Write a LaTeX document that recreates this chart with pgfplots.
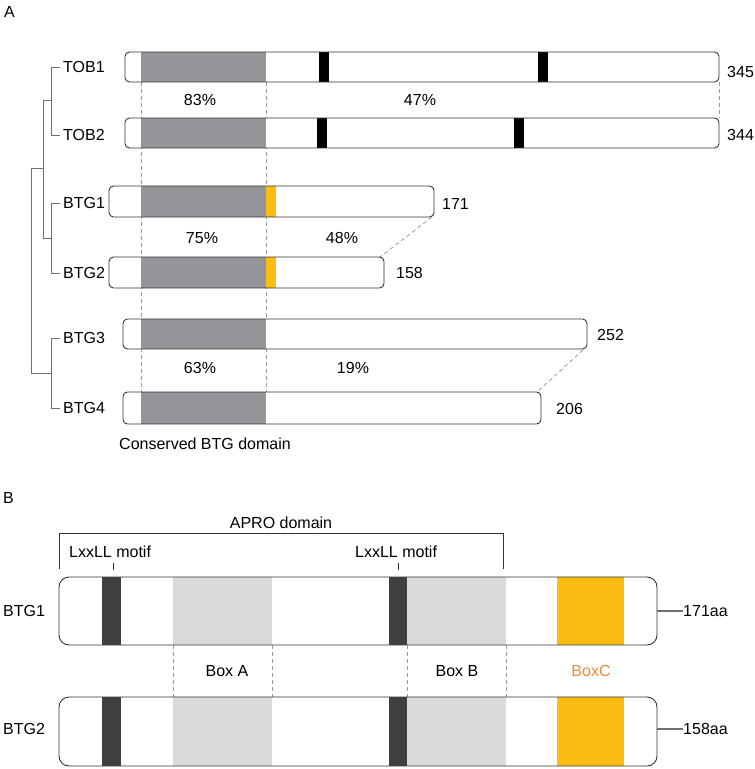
\documentclass[border=0pt]{standalone}
\usepackage{fontspec}
\setmainfont{Liberation Sans}
\usepackage{pgfplots}
\pgfplotsset{compat=1.18}
\definecolor{domgray}{HTML}{939598}
\definecolor{orng}{HTML}{FBBD13}
\definecolor{boxc}{HTML}{F0883C}
\definecolor{darkbar}{HTML}{404041}
\definecolor{lightbox}{HTML}{DADADA}
\definecolor{outl}{HTML}{333333}
\definecolor{tree}{HTML}{707070}
\definecolor{dash}{HTML}{9A9A9A}
\newcommand\rect[5]{\addplot[#5] coordinates {(#1,#3) (#2,#3) (#2,#4) (#1,#4)} -- cycle;}
\begin{document}
\begin{tikzpicture}
\fontsize{16bp}{19bp}\selectfont
\begin{axis}[scale only axis, width=755bp, height=769bp,
  xmin=0, xmax=755, ymin=0, ymax=769, y dir=reverse, hide axis, clip=false]
\addplot[draw=none] coordinates {(0,0) (755,769)};
\tikzset{lw/.style={anchor=west, inner sep=0pt}}
% ---------- Panel A ----------
\tikzset{dsh/.style={draw=dash, line width=0.8bp, dash pattern=on 4bp off 3bp}}
\addplot[dsh] coordinates {(141,82) (141,392)};
\addplot[dsh] coordinates {(266,82) (266,392)};
\addplot[dsh] coordinates {(719,82) (719,118)};
\addplot[dsh] coordinates {(432,217) (380,257)};
\addplot[dsh] coordinates {(583,350) (537,392)};
% dendrogram
\tikzset{tr/.style={draw=tree, line width=0.9bp}}
\addplot[tr] coordinates {(60,67) (51,67) (51,135) (60,135)};
\addplot[tr] coordinates {(60,203) (51,203) (51,273) (60,273)};
\addplot[tr] coordinates {(51,100) (43,100) (43,238) (51,238)};
\addplot[tr] coordinates {(60,338) (51,338) (51,408) (60,408)};
\addplot[tr] coordinates {(43,168) (31,168) (31,373) (51,373)};
% boxes
\tikzset{wf/.style={fill=white, draw=none, rounded corners=4.5bp},
         ol/.style={draw=outl, line width=0.9bp, rounded corners=4.5bp}}
% TOB1
\rect{125}{719}{52}{82}{wf}
\rect{141}{266}{52}{82}{fill=domgray, draw=none}
\rect{319}{329}{52}{82}{fill=black, draw=none}
\rect{538}{548}{52}{82}{fill=black, draw=none}
\rect{125}{719}{52}{82}{ol}
% TOB2
\rect{125}{719}{118}{148}{wf}
\rect{141}{266}{118}{148}{fill=domgray, draw=none}
\rect{317}{327}{118}{148}{fill=black, draw=none}
\rect{514}{524}{118}{148}{fill=black, draw=none}
\rect{125}{719}{118}{148}{ol}
% BTG1
\rect{109}{434}{186}{217}{wf}
\rect{141}{266}{186}{217}{fill=domgray, draw=none}
\rect{266}{276}{186}{217}{fill=orng, draw=none}
\rect{109}{434}{186}{217}{ol}
% BTG2
\rect{109}{384}{257}{288}{wf}
\rect{141}{266}{257}{288}{fill=domgray, draw=none}
\rect{266}{276}{257}{288}{fill=orng, draw=none}
\rect{109}{384}{257}{288}{ol}
% BTG3
\rect{123}{587}{319}{349}{wf}
\rect{141}{266}{319}{349}{fill=domgray, draw=none}
\rect{123}{587}{319}{349}{ol}
% BTG4
\rect{123}{541}{392}{424}{wf}
\rect{141}{266}{392}{424}{fill=domgray, draw=none}
\rect{123}{541}{392}{424}{ol}
% labels
\node[lw] at (axis cs:4,12) {A};
\node[lw] at (axis cs:63,67) {TOB1};
\node[lw] at (axis cs:63,135) {TOB2};
\node[lw] at (axis cs:63,203) {BTG1};
\node[lw] at (axis cs:63,273) {BTG2};
\node[lw] at (axis cs:63,338) {BTG3};
\node[lw] at (axis cs:63,408) {BTG4};
\node[lw] at (axis cs:727,72) {345};
\node[lw] at (axis cs:727,135) {344};
\node[lw] at (axis cs:442,204) {171};
\node[lw] at (axis cs:396,273) {158};
\node[lw] at (axis cs:597,335) {252};
\node[lw] at (axis cs:556,409) {206};
\node at (axis cs:200,100) {83\%};
\node at (axis cs:420,100) {47\%};
\node at (axis cs:202,238) {75\%};
\node at (axis cs:342,238) {48\%};
\node at (axis cs:200,368) {63\%};
\node at (axis cs:353,368) {19\%};
\node[lw] at (axis cs:119,444) {Conserved BTG domain};
% ---------- Panel B ----------
\node[lw] at (axis cs:3,498) {B};
\node at (axis cs:281,523) {APRO domain};
\addplot[draw=outl, line width=0.9bp] coordinates {(59,569) (59,533) (503,533) (503,569)};
\node[lw] at (axis cs:69,552) {LxxLL motif};
\node[lw] at (axis cs:355,552) {LxxLL motif};
\addplot[draw=outl, line width=0.9bp] coordinates {(113,563) (113,570)};
\addplot[draw=outl, line width=0.9bp] coordinates {(398,563) (398,570)};
\addplot[dsh] coordinates {(173,645) (173,697)};
\addplot[dsh] coordinates {(272,645) (272,697)};
\addplot[dsh] coordinates {(407,645) (407,697)};
\addplot[dsh] coordinates {(506,645) (506,697)};
\tikzset{wfb/.style={fill=white, draw=none, rounded corners=10bp},
         olb/.style={draw=outl, line width=0.9bp, rounded corners=10bp}}
% BTG1 B
\rect{59}{657}{577}{645}{wfb}
\rect{102}{121}{577}{645}{fill=darkbar, draw=none}
\rect{173}{272}{577}{645}{fill=lightbox, draw=none}
\rect{389}{407}{577}{645}{fill=darkbar, draw=none}
\rect{407}{506}{577}{645}{fill=lightbox, draw=none}
\rect{557}{624}{577}{645}{fill=orng, draw=none}
\rect{59}{657}{577}{645}{olb}
% BTG2 B
\rect{59}{657}{697}{766}{wfb}
\rect{102}{121}{697}{766}{fill=darkbar, draw=none}
\rect{173}{272}{697}{766}{fill=lightbox, draw=none}
\rect{389}{407}{697}{766}{fill=darkbar, draw=none}
\rect{407}{506}{697}{766}{fill=lightbox, draw=none}
\rect{557}{624}{697}{766}{fill=orng, draw=none}
\rect{59}{657}{697}{766}{olb}
\addplot[draw=tree, line width=1.2bp] coordinates {(657,611) (683,611)};
\addplot[draw=tree, line width=1.2bp] coordinates {(657,729) (683,729)};
\node[lw] at (axis cs:683,611) {171aa};
\node[lw] at (axis cs:683,729) {158aa};
\node[lw] at (axis cs:3,611) {BTG1};
\node[lw] at (axis cs:3,729) {BTG2};
\node at (axis cs:227,671) {Box A};
\node at (axis cs:457,671) {Box B};
\node[text=boxc] at (axis cs:591,671) {BoxC};
\end{axis}
\end{tikzpicture}
\end{document}
